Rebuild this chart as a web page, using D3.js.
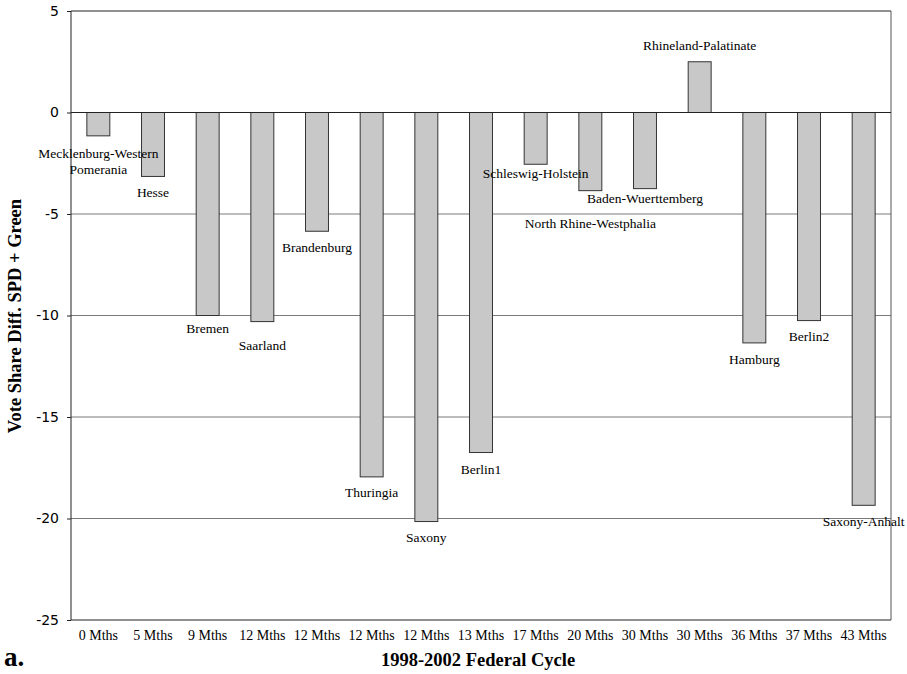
<!DOCTYPE html>
<html>
<head>
	<meta charset="utf-8">
	<title>1998-2002 Federal Cycle</title>
	<script src="https://cdnjs.cloudflare.com/ajax/libs/d3/7.8.5/d3.min.js"></script>
	<style>
		body { margin: 0; background: #fff; }
		.serif { font-family: "Times New Roman", "Liberation Serif", serif; }
		.ytick text { font-family: "DejaVu Sans", Verdana, sans-serif; font-size: 14px; fill: #000; }
		.xtick text { font-family: "Times New Roman", "Liberation Serif", serif; font-size: 14px; fill: #000; }
	</style>
</head>
<body>
<svg id="chart" width="907" height="674"></svg>
<script>
	// values
	const states = ["Mecklenburg-Western Pomerania", "Hesse", "Bremen", "Saarland", "Brandenburg",
		"Thuringia", "Saxony", "Berlin1", "Schleswig-Holstein", "North Rhine-Westphalia",
		"Baden-Wuerttemberg", "Rhineland-Palatinate", "Hamburg", "Berlin2", "Saxony-Anhalt"];
	const months = ["0 Mths", "5 Mths", "9 Mths", "12 Mths", "12 Mths", "12 Mths", "12 Mths",
		"13 Mths", "17 Mths", "20 Mths", "30 Mths", "30 Mths", "36 Mths", "37 Mths", "43 Mths"];
	const shares = [-1.15, -3.15, -10.0, -10.3, -5.85, -17.95, -20.15, -16.75, -2.55, -3.85,
		-3.75, 2.5, -11.35, -10.25, -19.35];
	const yTicks = [5, 0, -5, -10, -15, -20, -25];

	// where each state name sits relative to the bar end (px), hand tuned
	const labelGap = [22, 21, 17, 28, 21, 20, 20, 21, 14, 37, 14, -12, 21, 20, 21];

	const svg = d3.select("#chart");
	const m = {left: 71, top: 11, right: 16, bottom: 54};
	const W = 907 - m.left - m.right, H = 674 - m.top - m.bottom;
	const g = svg.append("g").attr("transform", `translate(${m.left},${m.top})`);

	const x = d3.scaleBand().domain(d3.range(states.length)).range([0, W]).paddingInner(0.58).paddingOuter(0.29);
	const y = d3.scaleLinear().domain([-25, 5]).range([H, 0]);

	// gridlines
	g.selectAll("line.grid").data(yTicks.filter(t => t !== 5 && t !== -25 && t !== 0))
		.enter().append("line")
			.attr("x1", 0).attr("x2", W)
			.attr("y1", d => y(d)).attr("y2", d => y(d))
			.attr("stroke", "#7a7a7a").attr("stroke-width", 1);

	// plot frame
	g.append("line").attr("x1", 0).attr("x2", W).attr("y1", y(5)).attr("y2", y(5)).attr("stroke", "#222");
	g.append("line").attr("x1", W).attr("x2", W).attr("y1", 0).attr("y2", H).attr("stroke", "#555");
	g.append("line").attr("x1", 0).attr("x2", W).attr("y1", H).attr("y2", H).attr("stroke", "#222");

	// bars
	g.selectAll("rect.bar").data(shares).enter().append("rect")
		.attr("class", "bar")
		.attr("x", (d, i) => x(i))
		.attr("width", x.bandwidth())
		.attr("y", d => y(Math.max(0, d)))
		.attr("height", d => Math.abs(y(d) - y(0)))
		.attr("fill", "#c8c8c8")
		.attr("stroke", "#333")
		.attr("stroke-width", 1);

	// zero line over the bars
	g.append("line").attr("x1", 0).attr("x2", W).attr("y1", y(0)).attr("y2", y(0)).attr("stroke", "#222");

	// y axis, plain hyphen for the minus like the original
	const yAxis = g.append("g").attr("class", "ytick")
		.call(d3.axisLeft(y).tickValues(yTicks).tickSize(4).tickPadding(8).tickFormat(d => String(d)));
	yAxis.select(".domain").remove();
	yAxis.selectAll(".tick line").attr("stroke", "#222");
	g.append("line").attr("x1", 0).attr("x2", 0).attr("y1", 0).attr("y2", H).attr("stroke", "#222");

	// x axis (month labels)
	const xAxis = g.append("g").attr("class", "xtick").attr("transform", `translate(0,${H})`)
		.call(d3.axisBottom(x).tickSize(0).tickPadding(10).tickFormat(i => months[i]));
	xAxis.select(".domain").remove();

	// state names
	const lab = g.selectAll("text.state").data(states).enter().append("text")
		.attr("class", "serif")
		.attr("text-anchor", "middle")
		.attr("font-size", 13.5)
		.attr("x", (d, i) => x(i) + x.bandwidth() / 2)
		.attr("y", (d, i) => y(shares[i]) + labelGap[i]);
	lab.each(function(d, i) {
		const t = d3.select(this);
		if (i === 0) {
			t.append("tspan").attr("x", t.attr("x")).text("Mecklenburg-Western");
			t.append("tspan").attr("x", t.attr("x")).attr("dy", 16).text("Pomerania");
		} else {
			t.text(d);
		}
	});

	// axis titles
	svg.append("text").attr("class", "serif")
		.attr("font-weight", "bold").attr("font-size", 18.5)
		.attr("text-anchor", "middle")
		.attr("transform", "translate(21,316) rotate(-90)")
		.text("Vote Share Diff. SPD + Green");
	svg.append("text").attr("class", "serif")
		.attr("font-weight", "bold").attr("font-size", 18.5)
		.attr("text-anchor", "middle")
		.attr("x", 478).attr("y", 666)
		.text("1998-2002 Federal Cycle");
	svg.append("text").attr("class", "serif")
		.attr("font-weight", "bold").attr("font-size", 27)
		.attr("x", 4).attr("y", 666)
		.text("a.");
</script>
</body>
</html>
